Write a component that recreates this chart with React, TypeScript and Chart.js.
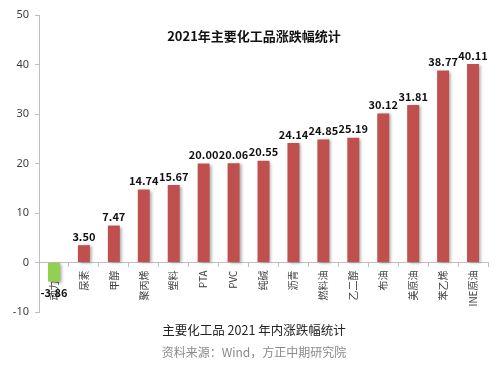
import React, { useEffect, useRef } from "react";
import { Chart, registerables } from "chart.js";

Chart.register(...registerables);

const categories = ["动力煤", "尿素", "甲醇", "聚丙烯", "塑料", "PTA", "PVC", "纯碱", "沥青", "燃料油", "乙二醇", "布油", "美原油", "苯乙烯", "INE原油"];
const changes = [-3.86, 3.5, 7.47, 14.74, 15.67, 20.0, 20.06, 20.55, 24.14, 24.85, 25.19, 30.12, 31.81, 38.77, 40.11];
const yTicks = [-10, 0, 10, 20, 30, 40, 50];
const chartTitle = "2021年主要化工品涨跌幅统计";
const caption = "主要化工品 2021 年内涨跌幅统计";
const sourceNote = "资料来源：Wind，方正中期研究院";

const RED = "#C0504D";
const GREEN = "#92D050";
const CJK = "'Noto Sans CJK SC', 'Noto Sans', sans-serif";

const decorPlugin = {
  id: "decor",
  beforeDatasetsDraw(chart: any) {
    const ctx = chart.ctx;
    ctx.save();
    ctx.shadowColor = "rgba(0,0,0,0.35)";
    ctx.shadowOffsetX = 2;
    ctx.shadowOffsetY = 1;
    ctx.shadowBlur = 3;
  },
  afterDatasetsDraw(chart: any) {
    const ctx = chart.ctx;
    ctx.restore();
    const meta = chart.getDatasetMeta(0);
    ctx.save();
    ctx.font = `bold 11px ${CJK}`;
    ctx.fillStyle = "#111";
    ctx.textAlign = "center";
    meta.data.forEach((bar: any, i: number) => {
      const v = changes[i];
      const txt = v.toFixed(2);
      if (v >= 0) {
        ctx.textBaseline = "bottom";
        ctx.fillText(txt, bar.x, bar.y - 3);
      } else {
        ctx.textBaseline = "top";
        ctx.fillText(txt, bar.x, bar.y + 6);
      }
    });
    ctx.restore();
  },
  afterDraw(chart: any) {
    const ctx = chart.ctx;
    ctx.save();
    ctx.textAlign = "center";
    ctx.textBaseline = "middle";
    ctx.fillStyle = "#111";
    ctx.font = `bold 13px ${CJK}`;
    ctx.fillText(chartTitle, 254, 36);
    ctx.font = `12.5px ${CJK}`;
    ctx.fillStyle = "#222";
    ctx.fillText(caption, 254, 330);
    ctx.font = `12px ${CJK}`;
    ctx.fillStyle = "#8a8a8a";
    ctx.fillText(sourceNote, 254, 352);
    ctx.restore();
  },
};

export default function App() {
  const ref = useRef<HTMLCanvasElement>(null);
  useEffect(() => {
    const chart = new Chart(ref.current!, {
      type: "bar",
      data: {
        labels: categories,
        datasets: [
          {
            data: changes,
            backgroundColor: changes.map((v) => (v < 0 ? GREEN : RED)),
            barPercentage: 0.4,
            categoryPercentage: 1,
          },
        ],
      },
      options: {
        animation: false,
        responsive: false,
        layout: { padding: { top: 15, left: 8, right: 12, bottom: 54 } },
        plugins: { legend: { display: false }, tooltip: { enabled: false } },
        scales: {
          x: {
            position: { y: 0 },
            z: 1,
            grid: { display: true, drawOnChartArea: false, tickLength: 4, color: "#BFBFBF", offset: true },
            border: { display: true, color: "#BFBFBF" },
            ticks: {
              minRotation: 90,
              maxRotation: 90,
              padding: 4,
              color: "#404040",
              font: { size: 10, family: CJK },
            },
          },
          y: {
            min: -10,
            max: 50,
            afterBuildTicks: (s: any) => {
              s.ticks = yTicks.map((v) => ({ value: v }));
            },
            afterFit: (s: any) => {
              s.width = 31;
            },
            grid: { display: true, drawOnChartArea: false, tickLength: 4, color: "#BFBFBF" },
            border: { display: true, color: "#BFBFBF" },
            ticks: { color: "#404040", padding: 6, font: { size: 11, family: "'Noto Sans', sans-serif" } },
          },
        },
      },
      plugins: [decorPlugin],
    });
    return () => chart.destroy();
  }, []);
  return (
    <div style={{ position: "fixed", left: 0, top: 0, width: 500, height: 366, background: "#fff" }}>
      <canvas ref={ref} width={500} height={366} style={{ display: "block", width: 500, height: 366 }} />
    </div>
  );
}
